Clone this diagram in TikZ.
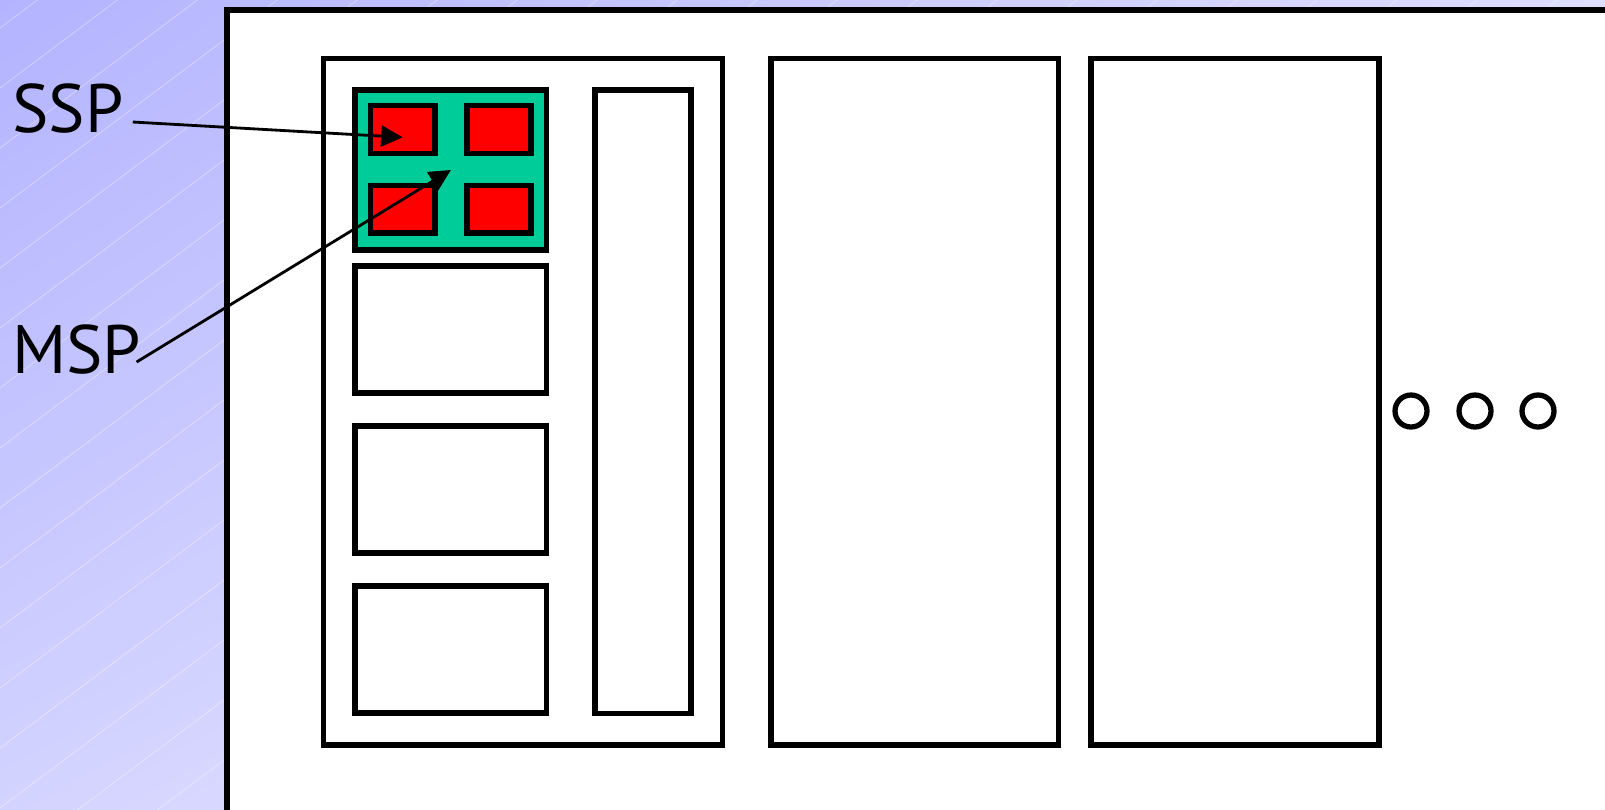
\documentclass[tikz,border=0pt]{standalone}
\usepackage{fontspec}
\setmainfont{PT Sans}
\usetikzlibrary{arrows.meta,shadings}

\definecolor{bgul}{RGB}{179,179,255}
\definecolor{bgur}{RGB}{222,222,255}
\definecolor{bgll}{RGB}{211,211,255}
\definecolor{bglr}{RGB}{245,245,255}
\definecolor{board}{RGB}{0,204,153}

\tikzset{
  box/.style={draw, line width=3.2pt, fill=white, inner sep=0pt},
  chip/.style={box, fill=red, minimum width=1.29cm, minimum height=0.96cm},
  slot/.style={box, minimum width=3.83cm, minimum height=2.54cm},
  rack/.style={box, minimum height=13.74cm},
  dot/.style={draw, circle, line width=3pt, inner sep=0pt, minimum size=0.64cm},
  lbl/.style={inner sep=0pt, font=\fontsize{39}{46}\selectfont},
  ptr/.style={-{Triangle[length=4.3mm, width=4.2mm]}, line width=1.6pt}
}

\begin{document}
\begin{tikzpicture}[x=0.02cm, y=-0.02cm]
        \useasboundingbox (0,0) rectangle (1605,809);
        % background
        \begin{scope}
          \clip (0,0) rectangle (1605,809);
          \shade[upper left=bgul, upper right=bgur, lower left=bgll, lower right=bglr] (0,0) rectangle (1605,809);
          \foreach \k in {0,...,34}
            \draw[white, opacity=0.4, line width=0.4pt] (0,{28+60*\k}) -- (1605,{28+60*\k-1203.75});
        \end{scope}
        \draw[box] (227,10.2) rectangle (1640,850);
        % first rack
        \node[rack, minimum width=7.98cm] (rack1) at (523.1,401.75) {};
        \node[box, fill=board, minimum width=3.83cm, minimum height=3.19cm] (board) at (450.9,170) {};
        \node[chip] (c11) at (402.7,129.5) {};
        \node[chip] (c12) at (499,129.5) {};
        \node[chip] (c21) at (402.7,209.3) {};
        \node[chip] (c22) at (499,209.3) {};
        \node[slot] (s1) at (450.9,329.6) {};
        \node[slot] (s2) at (450.9,489.3) {};
        \node[slot] (s3) at (450.9,649.5) {};
        \node[box, minimum width=1.92cm, minimum height=12.47cm] (tall) at (642.8,401.8) {};
        % other racks
        \node[rack, minimum width=5.75cm] (rack2) at (914.6,401.75) {};
        \node[rack, minimum width=5.75cm] (rack3) at (1235,401.75) {};
        \foreach \x/\n in {1411/1, 1475/2, 1538/3}
          \node[dot] (d\n) at (\x,411) {};
        % labels
        \node[lbl, anchor=base west] (ssp) at (12,132) {SSP};
        \node[lbl, anchor=base west] (msp) at (12,373) {MSP};
        \draw[ptr] ([shift={(0.18cm,0.2cm)}]ssp.base east) -- ([yshift=-0.156cm]c11.center);
        \draw[ptr] ([shift={(-0.1cm,0.22cm)}]msp.base east) -- (board.center);
    \end{tikzpicture}
\end{document}
